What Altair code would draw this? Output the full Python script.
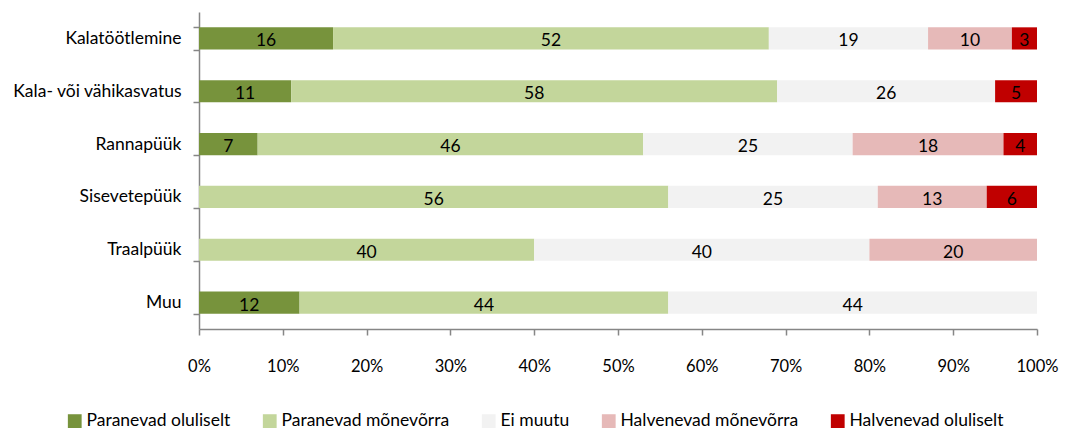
import altair as alt
import pandas as pd

categories = ["Kalatöötlemine", "Kala- või vähikasvatus", "Rannapüük", "Sisevetepüük", "Traalpüük", "Muu"]
series = ["Paranevad oluliselt", "Paranevad mõnevõrra", "Ei muutu", "Halvenevad mõnevõrra", "Halvenevad oluliselt"]
colors = ["#77933C", "#C3D69B", "#F2F2F2", "#E6B9B8", "#C00000"]

paranevad_oluliselt = [16, 11, 7, 0, 0, 12]
paranevad_monevorra = [52, 58, 46, 56, 40, 44]
ei_muutu = [19, 26, 25, 25, 40, 44]
halvenevad_monevorra = [10, 0, 18, 13, 20, 0]
halvenevad_oluliselt = [3, 5, 4, 6, 0, 0]

vals = [paranevad_oluliselt, paranevad_monevorra, ei_muutu, halvenevad_monevorra, halvenevad_oluliselt]
rows = []
for si, (s, v) in enumerate(zip(series, vals)):
    for c, x in zip(categories, v):
        rows.append({"cat": c, "series": s, "order": si, "value": x})
df = pd.DataFrame(rows)

FONT = "Lato"
FS = 17.5

base = alt.Chart(df).transform_stack(
    stack="value", groupby=["cat"], as_=["x0", "x1"], sort=[alt.SortField("order", order="ascending")]
).transform_calculate(mid="(datum.x0 + datum.x1) / 2")

y = alt.Y("cat:N", sort=categories, title=None,
          scale=alt.Scale(paddingInner=0.58, paddingOuter=0.29),
          axis=alt.Axis(tickBand="extent", domainColor="#868686", tickColor="#868686",
                        tickSize=6, labelPadding=12, labelFont=FONT, labelFontSize=FS,
                        labelColor="#000000", domainWidth=1.5, tickWidth=1.5))

bars = base.mark_bar().encode(
    x=alt.X("x0:Q", scale=alt.Scale(domain=[0, 100]), title=None,
            axis=alt.Axis(values=list(range(0, 101, 10)), labelExpr="datum.value + '%'",
                          domainColor="#868686", tickColor="#868686", tickSize=6,
                          labelPadding=23, labelFont=FONT, labelFontSize=16.5, labelFlush=False,
                          labelColor="#000000", grid=False, domainWidth=1.5, tickWidth=1.5)),
    x2="x1:Q",
    y=y,
    color=alt.Color("series:N", sort=series,
                    scale=alt.Scale(domain=series, range=colors),
                    legend=alt.Legend(title=None, orient="none", direction="horizontal",
                                      legendX=-133, legendY=400, symbolType="square",
                                      symbolSize=190, symbolStrokeWidth=0, labelLimit=400,
                                      labelFont=FONT, labelFontSize=FS, labelColor="#000000",
                                      columnPadding=30, labelOffset=3, symbolOpacity=1)),
)

labels = base.transform_filter("datum.value > 0").mark_text(
    font=FONT, fontSize=FS, color="#000000", dy=3
).encode(
    x=alt.X("mid:Q"),
    y=alt.Y("cat:N", sort=categories),
    text=alt.Text("value:Q"),
)

chart = alt.layer(bars, labels).properties(
    width=838, height=317,
    autosize=alt.AutoSizeParams(type="none"),
    padding={"left": 191, "top": 4, "right": 22, "bottom": 103},
).configure_view(stroke=None)

chart.save("out.html", embed_options={"renderer": "svg", "actions": False})
